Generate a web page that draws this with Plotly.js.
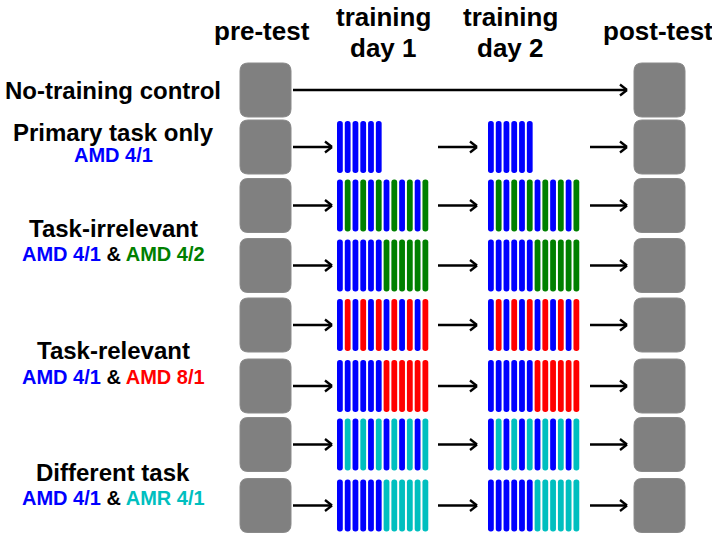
<!DOCTYPE html>
<html><head><meta charset="utf-8">
<script src="https://cdn.plot.ly/plotly-3.0.1.min.js"></script>
<style>html,body{margin:0;padding:0;background:#fff}#chart{width:712px;height:537px}</style>
</head><body><div id="chart"></div>
<script>
// ---------- data ----------
const stageLabels = [["pre-test"], ["training", "day 1"], ["training", "day 2"], ["post-test"]];
const groupTitles = ["No-training control", "Primary task only", "Task-irrelevant", "Task-relevant", "Different task"];
const groupSubs = [
  [],
  [["AMD 4/1", "B"]],
  [["AMD 4/1", "B"], [" & ", "K"], ["AMD 4/2", "G"]],
  [["AMD 4/1", "B"], [" & ", "K"], ["AMD 8/1", "R"]],
  [["AMD 4/1", "B"], [" & ", "K"], ["AMR 4/1", "C"]]
];
// block sequences per row (same on day 1 and day 2)
const rowBlocks = [
  "",
  "BBBBBB",
  "BGBGBGBGBGBG",
  "BBBBBBGGGGGG",
  "BRBRBRBRBRBR",
  "BBBBBBRRRRRR",
  "BCBCBCBCBCBC",
  "BBBBBBCCCCCC"
];
const colorKey = {B: "#0000ff", G: "#008000", R: "#ff0000", C: "#00bfbf", K: "#000000"};

// ---------- layout geometry ----------
const rowY = [90, 147, 205.5, 265.5, 325, 386, 444.5, 505.5];
const groupTitleY = [90, 132, 228, 350, 472];
const groupSubY = [null, 155, 254, 377, 498];
const labelX = 113;
const stageX = [262, 383, 510, 658];
const sqW = 51, sqH = 54, sqR = 8;
const preX = 240, postX = 634;
const day1X = 337, day2X = 488, pitch = 7.77, barW = 5.8, barH = 52;

function rr(x0, y0, x1, y1, r) {
  return `M${x0+r},${y0} L${x1-r},${y0} Q${x1},${y0} ${x1},${y0+r} L${x1},${y1-r} Q${x1},${y1} ${x1-r},${y1} ` +
         `L${x0+r},${y1} Q${x0},${y1} ${x0},${y1-r} L${x0},${y0+r} Q${x0},${y0} ${x0+r},${y0} Z`;
}
const shapes = [];
function arrow(x0, x1, y) {
  const s = {type: "line", xref: "x", yref: "y", line: {color: "#000", width: 2.3}};
  shapes.push(Object.assign({}, s, {x0: x0, x1: x1, y0: y, y1: y}));
  shapes.push(Object.assign({}, s, {x0: x1 - 7, x1: x1, y0: y - 5.5, y1: y}));
  shapes.push(Object.assign({}, s, {x0: x1 - 7, x1: x1, y0: y + 5.5, y1: y}));
}
rowY.forEach((y, i) => {
  [preX, postX].forEach(x => shapes.push({type: "path", xref: "x", yref: "y",
    path: rr(x, y - sqH/2, x + sqW, y + sqH/2, sqR), fillcolor: "#808080", line: {color: "#8a8a8a", width: 1}}));
  const blocks = rowBlocks[i];
  if (!blocks.length) { arrow(293, 627, y); return; }
  [day1X, day2X].forEach(sx => {
    blocks.split("").forEach((k, j) => {
      const x = sx + j * pitch;
      shapes.push({type: "path", xref: "x", yref: "y",
        path: rr(x, y - barH/2, x + barW, y + barH/2, 2.7), fillcolor: colorKey[k], line: {width: 0}});
    });
  });
  arrow(293, 332, y);
  arrow(438, 477, y);
  arrow(590, 627, y);
});

const annotations = [];
const font = "Arial, 'Liberation Sans', sans-serif";
stageLabels.forEach((lines, i) => {
  const ys = lines.length === 1 ? [31] : [17, 48];
  lines.forEach((t, j) => annotations.push({x: stageX[i], y: ys[j], xref: "x", yref: "y", text: "<b>" + t + "</b>",
    showarrow: false, font: {family: font, size: 26, color: "#000"}, xanchor: "center", yanchor: "middle"}));
});
groupTitles.forEach((t, i) => {
  annotations.push({x: labelX, y: groupTitleY[i], xref: "x", yref: "y", text: "<b>" + t + "</b>", showarrow: false,
    font: {family: font, size: 24, color: "#000"}, xanchor: "center", yanchor: "middle"});
  if (groupSubs[i].length) {
    const txt = groupSubs[i].map(p => `<span style="color:${colorKey[p[1]]}">${p[0]}</span>`).join("");
    annotations.push({x: labelX, y: groupSubY[i], xref: "x", yref: "y", text: "<b>" + txt + "</b>", showarrow: false,
      font: {family: font, size: 20, color: "#000"}, xanchor: "center", yanchor: "middle"});
  }
});

const layout = {
  width: 712, height: 537, margin: {l: 0, r: 0, t: 0, b: 0},
  paper_bgcolor: "#fff", plot_bgcolor: "#fff", showlegend: false,
  xaxis: {range: [0, 712], visible: false, fixedrange: true},
  yaxis: {range: [537, 0], visible: false, fixedrange: true},
  shapes: shapes, annotations: annotations
};
Plotly.newPlot("chart", [{x: [0], y: [0], mode: "markers", marker: {opacity: 0}, hoverinfo: "skip"}], layout, {staticPlot: true});
</script></body></html>
